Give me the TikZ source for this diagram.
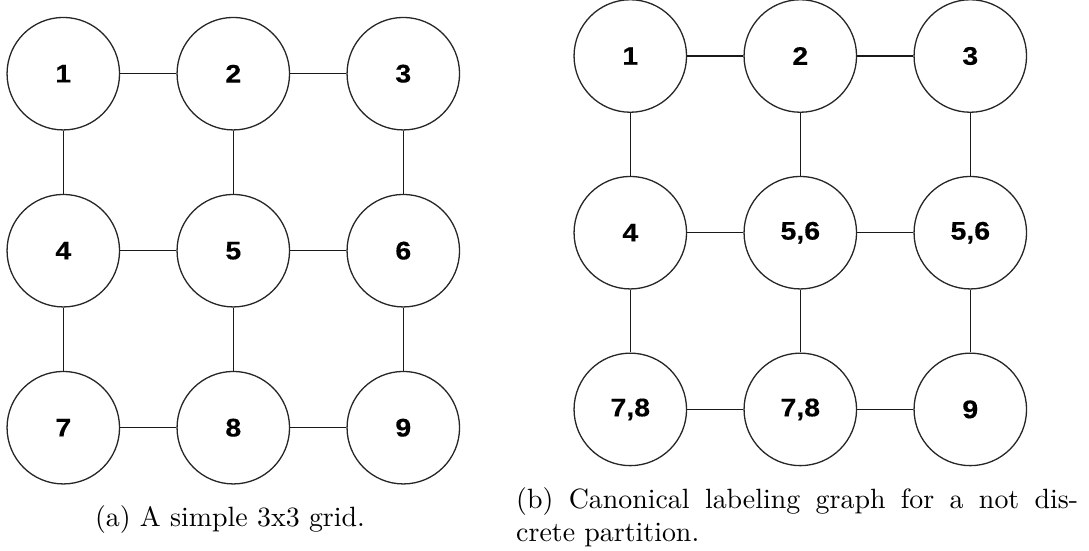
\documentclass[tikz,border=0pt]{standalone}
\usepackage{fontspec}
\newfontfamily\nodefont{Liberation Sans}[FakeStretch=1.12, BoldFeatures={FakeBold=0.4}]
\newfontfamily\capfont{lmroman10-regular}[Extension=.otf]
\begin{document}
\begin{tikzpicture}[x=1bp,y=-1bp,
  vertex/.style={circle, draw=black!85, line width=1.3bp, fill=white,
    minimum size=112.5bp, inner sep=0pt,
    font=\nodefont\fontsize{25.5}{28}\selectfont\bfseries},
  edge/.style={line width=1.3bp, draw=black!90},
  captext/.style={inner sep=0pt, font=\capfont\fontsize{28}{33.4}\selectfont}]
\useasboundingbox (0,0) rectangle (1089,551);

% (a) plain 3x3 grid
\node[vertex] (a1) at (63.3,73.7)  {1};
\node[vertex] (a2) at (233.3,73.7) {2};
\node[vertex] (a3) at (403.3,73.7) {3};
\node[vertex] (a4) at (63.3,250.7) {4};
\node[vertex] (a5) at (233.3,250.7){5};
\node[vertex] (a6) at (403.3,250.7){6};
\node[vertex] (a7) at (63.3,427.7) {7};
\node[vertex] (a8) at (233.3,427.7){8};
\node[vertex] (a9) at (403.3,427.7){9};
\foreach \u/\v in {a1/a2,a2/a3,a4/a5,a5/a6,a7/a8,a8/a9,
                   a1/a4,a4/a7,a2/a5,a5/a8,a3/a6,a6/a9}
  \draw[edge] (\u) -- (\v);

% (b) labeling graph for the partition
\node[vertex] (b1) at (630.3,56)    {1};
\node[vertex] (b2) at (800.3,56)    {2};
\node[vertex] (b3) at (970.3,56)    {3};
\node[vertex] (b4) at (630.3,232.7) {4};
\node[vertex] (b5) at (800.3,232.7) {5,6};
\node[vertex] (b6) at (970.3,232.7) {5,6};
\node[vertex] (b7) at (630.3,409.4) {7,8};
\node[vertex] (b8) at (800.3,409.4) {7,8};
\node[vertex] (b9) at (970.3,409.4) {9};
\foreach \u/\v in {b1/b2,b2/b3,b4/b5,b5/b6,b7/b8,b8/b9,
                   b1/b4,b4/b7,b2/b5,b5/b8,b3/b6,b6/b9}
  \draw[edge] (\u) -- (\v);

% captions (the second one is set as a justified line plus a short last line)
\node[captext, anchor=base] (capa) at (230,526) {(a) A simple 3x3 grid.};
\node[captext, anchor=base west] (capb1) at (516,508.3)
  {\makebox[562bp][s]{(b) Canonical labeling graph for a not dis-}};
\node[captext, anchor=base west] (capb2) at (516,541.7) {crete partition.};
\end{tikzpicture}
\end{document}
